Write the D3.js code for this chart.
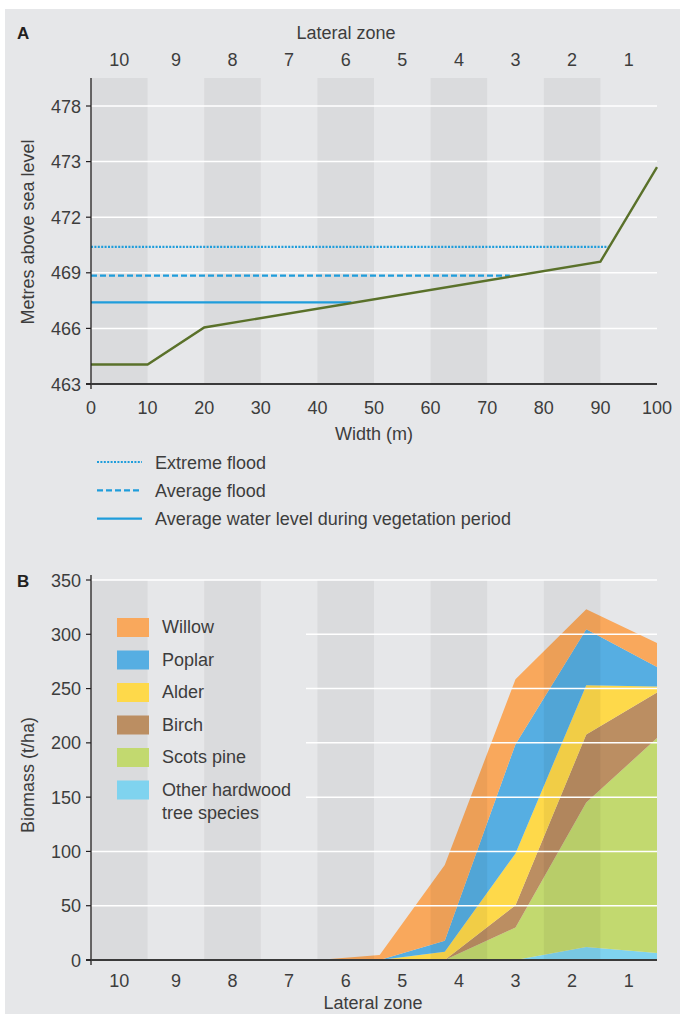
<!DOCTYPE html>
<html>
<head>
<meta charset="utf-8">
<script src="https://cdnjs.cloudflare.com/ajax/libs/d3/7.8.5/d3.min.js"></script>
<style>
  body { margin: 0; background: #fff; }
  svg text { font-family: "Liberation Sans", Arial, sans-serif; fill: #3d3d3d; }
</style>
</head>
<body>
<svg id="chart" width="680" height="1014"></svg>
<script>
// ---- data, panel A (cross section) ----
var zones = [10, 9, 8, 7, 6, 5, 4, 3, 2, 1];
var widthTicks = [0, 10, 20, 30, 40, 50, 60, 70, 80, 90, 100];
var levelTicks = [463, 466, 469, 472, 473, 478];
var groundWidth = [0, 10, 20, 90, 100];
var groundLevel = [464.05, 464.05, 466.05, 469.6, 472.9];
var waterNames = ["Extreme flood", "Average flood", "Average water level during vegetation period"];
var waterLevels = [470.4, 468.85, 467.4];
var waterEnds = [91.5, 74, 46];

// ---- data, panel B (biomass, stacked) ----
var species = ["Willow", "Poplar", "Alder", "Birch", "Scots pine", "Other hardwood\ntree species"];
var biomassWidth = [40, 51, 62.5, 75, 87.5, 100];
var willow = [0, 4.6, 69.7, 59.8, 18.4, 22.1];
var poplar = [0, 0, 10.2, 100.6, 51.6, 17.8];
var alder = [0, 0, 7.6, 47.7, 45.4, 5.6];
var birch = [0, 0, 0, 20.5, 62.7, 42];
var scotsPine = [0, 0, 0, 30, 133, 198];
var otherHardwood = [0, 0, 0, 0, 12, 6.4];
var biomassTicks = [0, 50, 100, 150, 200, 250, 300, 350];

var colors = ["#f9a85c", "#56aee2", "#fed94a", "#bb8e62", "#c2d96f", "#7fd3ef"];
var waterColor = "#1f9ddb";
var groundColor = "#5a712a";
var stripe = "rgba(0,0,0,0.05)";
var fs = 18;

var svg = d3.select("#chart");

// panel background
svg.append("rect")
    .attr("x", 5).attr("y", 9)
    .attr("width", 675).attr("height", 1005)
    .attr("fill", "#e6e7e9");

var left = 91, right = 657;

// ================= PANEL A =================
var topA = 78, bottomA = 384;
var xA = d3.scaleLinear().domain([0, 100]).range([left, right]);
// uneven tick values spaced evenly -> piecewise linear scale
var stepA = 55.6;
var yA = d3.scaleLinear()
    .domain(levelTicks)
    .range(levelTicks.map(function(d, i) { return bottomA - i * stepA; }));
var zoneA = d3.scaleBand().domain(zones).range([left, right]);

var gA = svg.append("g");

// zone stripes
gA.selectAll(".stripe")
    .data(zones.filter(function(d, i) { return i % 2 === 0; }))
    .enter().append("rect")
    .attr("x", function(d) { return zoneA(d); })
    .attr("y", topA)
    .attr("width", zoneA.bandwidth())
    .attr("height", bottomA - topA)
    .attr("fill", stripe);

// gridlines
gA.selectAll(".grid")
    .data(levelTicks.slice(1))
    .enter().append("line")
    .attr("x1", left).attr("x2", right)
    .attr("y1", function(d) { return yA(d); })
    .attr("y2", function(d) { return yA(d); })
    .attr("stroke", "#fff").attr("stroke-width", 1.5);

// water lines
var dashes = ["2,1.4", "6,3", null];
gA.selectAll(".water")
    .data(waterLevels)
    .enter().append("line")
    .attr("x1", xA(0))
    .attr("x2", function(d, i) { return xA(waterEnds[i]); })
    .attr("y1", function(d) { return yA(d); })
    .attr("y2", function(d) { return yA(d); })
    .attr("stroke", waterColor).attr("stroke-width", 2.2)
    .attr("stroke-dasharray", function(d, i) { return dashes[i]; });

// ground profile
var ground = d3.line()
    .x(function(d, i) { return xA(groundWidth[i]); })
    .y(function(d) { return yA(d); });
gA.append("path")
    .attr("d", ground(groundLevel))
    .attr("fill", "none")
    .attr("stroke", groundColor).attr("stroke-width", 2.4);

// axes
gA.append("line")
    .attr("x1", left).attr("x2", left).attr("y1", topA).attr("y2", bottomA + 5)
    .attr("stroke", "#231f20").attr("stroke-width", 1.3);
gA.append("line")
    .attr("x1", left - 5).attr("x2", right).attr("y1", bottomA).attr("y2", bottomA)
    .attr("stroke", "#3a3a3a").attr("stroke-width", 1.8);
gA.selectAll(".ytick")
    .data(levelTicks)
    .enter().append("line")
    .attr("x1", left - 5).attr("x2", left)
    .attr("y1", function(d) { return yA(d); })
    .attr("y2", function(d) { return yA(d); })
    .attr("stroke", "#231f20").attr("stroke-width", 1.2);
gA.selectAll(".ylabel")
    .data(levelTicks)
    .enter().append("text")
    .attr("x", 81)
    .attr("y", function(d) { return yA(d) + 6.5; })
    .attr("text-anchor", "end")
    .attr("font-size", fs)
    .text(function(d) { return d; });
gA.selectAll(".xlabel")
    .data(widthTicks)
    .enter().append("text")
    .attr("x", function(d) { return xA(d); })
    .attr("y", 414)
    .attr("text-anchor", "middle")
    .attr("font-size", fs)
    .text(function(d) { return d; });
gA.selectAll(".zlabel")
    .data(zones)
    .enter().append("text")
    .attr("x", function(d) { return zoneA(d) + zoneA.bandwidth() / 2; })
    .attr("y", 66)
    .attr("text-anchor", "middle")
    .attr("font-size", fs)
    .text(function(d) { return d; });

gA.append("text").attr("x", 17).attr("y", 39)
    .attr("font-size", 17).style("font-weight", 700).style("fill", "#231f20").text("A");
gA.append("text").attr("x", 346).attr("y", 39)
    .attr("text-anchor", "middle").attr("font-size", fs).text("Lateral zone");
gA.append("text").attr("x", 374).attr("y", 440)
    .attr("text-anchor", "middle").attr("font-size", fs).text("Width (m)");
gA.append("text")
    .attr("transform", "translate(34,232) rotate(-90)")
    .attr("text-anchor", "middle").attr("font-size", fs)
    .text("Metres above sea level");

// legend A
var legA = gA.selectAll(".legA")
    .data(waterNames)
    .enter().append("g")
    .attr("transform", function(d, i) { return "translate(97," + (462 + i * 28.3) + ")"; });
legA.append("line")
    .attr("x1", 0).attr("x2", 45)
    .attr("stroke", waterColor).attr("stroke-width", 2.2)
    .attr("stroke-dasharray", function(d, i) { return dashes[i]; });
legA.append("text")
    .attr("x", 58).attr("y", 6.5)
    .attr("font-size", fs)
    .text(function(d) { return d; });

// ================= PANEL B =================
var topB = 575, bottomB = 960;
var xB = d3.scaleLinear().domain([0, 100]).range([left, right]);
var yB = d3.scaleLinear().domain([0, 350]).range([bottomB, 580]);
var zoneB = d3.scaleBand().domain(zones).range([left, right]);

var gB = svg.append("g");

// stack the species, other hardwood at the bottom
var series = [willow, poplar, alder, birch, scotsPine, otherHardwood];
var rows = biomassWidth.map(function(w, j) {
    var r = { w: w };
    species.forEach(function(s, k) { r[s] = series[k][j]; });
    return r;
});
var stack = d3.stack().keys(species.slice().reverse());
var layers = stack(rows);

var area = d3.area()
    .x(function(d) { return xB(d.data.w); })
    .y0(function(d) { return yB(d[0]); })
    .y1(function(d) { return yB(d[1]); });

gB.selectAll(".layer")
    .data(layers)
    .enter().append("path")
    .attr("d", area)
    .attr("fill", function(d) { return colors[species.indexOf(d.key)]; });

// zone stripes on top of the areas
gB.selectAll(".stripe")
    .data(zones.filter(function(d, i) { return i % 2 === 0; }))
    .enter().append("rect")
    .attr("x", function(d) { return zoneB(d); })
    .attr("y", yB(350))
    .attr("width", zoneB.bandwidth())
    .attr("height", bottomB - yB(350))
    .attr("fill", stripe);

// gridlines, broken where the legend sits
var legendRight = 306, legendTop = 605, legendBottom = 825;
gB.selectAll(".grid")
    .data(biomassTicks.slice(1))
    .enter().append("line")
    .attr("x1", function(d) {
        var y = yB(d);
        return (y > legendTop && y < legendBottom) ? legendRight : left;
    })
    .attr("x2", right)
    .attr("y1", function(d) { return yB(d); })
    .attr("y2", function(d) { return yB(d); })
    .attr("stroke", "#fff").attr("stroke-width", 1.5);

// axes
gB.append("line")
    .attr("x1", left).attr("x2", left).attr("y1", topB).attr("y2", bottomB + 5)
    .attr("stroke", "#231f20").attr("stroke-width", 1.3);
gB.append("line")
    .attr("x1", left - 5).attr("x2", right).attr("y1", bottomB).attr("y2", bottomB)
    .attr("stroke", "#3a3a3a").attr("stroke-width", 1.8);
gB.selectAll(".ytick")
    .data(biomassTicks)
    .enter().append("line")
    .attr("x1", left - 5).attr("x2", left)
    .attr("y1", function(d) { return yB(d); })
    .attr("y2", function(d) { return yB(d); })
    .attr("stroke", "#231f20").attr("stroke-width", 1.2);
gB.selectAll(".ylabel")
    .data(biomassTicks)
    .enter().append("text")
    .attr("x", 81)
    .attr("y", function(d) { return yB(d) + 6.5; })
    .attr("text-anchor", "end")
    .attr("font-size", fs)
    .text(function(d) { return d; });
gB.selectAll(".zlabel")
    .data(zones)
    .enter().append("text")
    .attr("x", function(d) { return zoneB(d) + zoneB.bandwidth() / 2; })
    .attr("y", 987)
    .attr("text-anchor", "middle")
    .attr("font-size", fs)
    .text(function(d) { return d; });

gB.append("text").attr("x", 17).attr("y", 587)
    .attr("font-size", 17).style("font-weight", 700).style("fill", "#231f20").text("B");
gB.append("text").attr("x", 373).attr("y", 1009)
    .attr("text-anchor", "middle").attr("font-size", fs).text("Lateral zone");
gB.append("text")
    .attr("transform", "translate(34,775) rotate(-90)")
    .attr("text-anchor", "middle").attr("font-size", fs)
    .text("Biomass (t/ha)");

// legend B
var legB = gB.selectAll(".legB")
    .data(species)
    .enter().append("g")
    .attr("transform", function(d, i) { return "translate(117," + (618 + i * 32.5) + ")"; });
legB.append("rect")
    .attr("width", 32).attr("height", 19)
    .attr("fill", function(d, i) { return colors[i]; });
legB.append("text")
    .attr("x", 45).attr("y", 15)
    .attr("font-size", fs)
    .selectAll("tspan")
    .data(function(d) { return d.split("\n"); })
    .enter().append("tspan")
    .attr("x", 45)
    .attr("dy", function(d, i) { return i ? 23 : 0; })
    .text(function(d) { return d; });
</script>
</body>
</html>
